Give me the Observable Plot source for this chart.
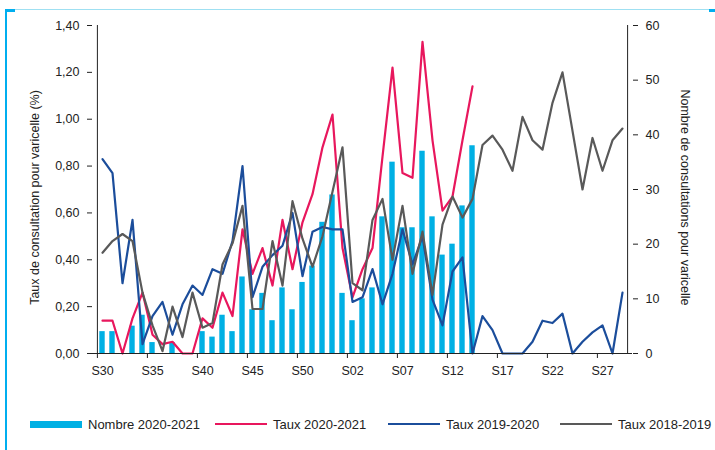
<!DOCTYPE html>
<html>
<head>
<meta charset="utf-8">
<script src="https://cdn.jsdelivr.net/npm/d3@7"></script>
<script src="https://cdn.jsdelivr.net/npm/@observablehq/plot@0.6"></script>
<style>
  body { margin: 0; background: #fff; font-family: "Liberation Sans", Arial, sans-serif; }
  #wrap { position: relative; width: 715px; height: 450px; overflow: hidden; background: #fff; }
  #chart { position: absolute; left: 0; top: 0; }
  .deco { position: absolute; background: #00AEEF; }
  .thin { position: absolute; background: #9FE0F2; }
  .lg-item { position: absolute; top: 416px; height: 16px; display: flex; align-items: center; font-size: 13px; color: #222; white-space: nowrap; }
  .lg-sw { width: 52px; margin-right: 6px; }
</style>
</head>
<body>
<div id="wrap">
  <div class="thin" style="left:15px;top:9px;width:694px;height:1px;"></div>
  <div class="deco" style="left:5px;top:9px;width:10px;height:2.5px;"></div>
  <div class="deco" style="left:709px;top:9px;width:6px;height:2.5px;"></div>
  <div class="deco" style="left:5px;top:9px;width:2.4px;height:441px;"></div>
  <div id="chart"></div>
  <div id="legend"></div>
</div>
<script>
// ---- Data ----
const weeks = ["S30","S31","S32","S33","S34","S35","S36","S37","S38","S39","S40","S41","S42","S43","S44","S45","S46","S47","S48","S49","S50","S51","S52","S53",
               "S01","S02","S03","S04","S05","S06","S07","S08","S09","S10","S11","S12","S13","S14","S15","S16","S17","S18","S19","S20","S21","S22","S23","S24","S25","S26","S27","S28","S29"];
const xTickLabels = ["S30","S35","S40","S45","S50","S02","S07","S12","S17","S22","S27"];
// Nombre de consultations 2020-2021 (right axis)
const nombre2021 = [4,4,0,5,7,2,0,2,0,0,4,3,7,4,14,8,11,6,12,8,13,16,24,29,11,6,10,12,25,35,23,23,37,25,18,20,27,38];
// Taux (%) (left axis)
const taux2021 = [0.14,0.14,0.00,0.15,0.26,0.08,0.04,0.05,0.00,0.00,0.15,0.11,0.26,0.16,0.53,0.34,0.45,0.29,0.57,0.36,0.56,0.68,0.88,1.02,
                  0.45,0.24,0.36,0.45,0.84,1.22,0.77,0.75,1.33,0.91,0.61,0.67,0.91,1.14];
const taux1920 = [0.83,0.77,0.30,0.57,0.04,0.16,0.22,0.08,0.21,0.29,0.25,0.36,0.34,0.48,0.80,0.24,0.37,0.42,0.46,0.60,0.33,0.52,0.54,0.53,
                  0.53,0.22,0.24,0.36,0.21,0.34,0.53,0.38,0.50,0.23,0.12,0.35,0.41,0.00,0.16,0.10,0.00,0.00,0.00,0.05,0.14,0.13,0.17,0.00,0.05,0.09,0.12,0.00,0.26];
const taux1819 = [0.43,0.48,0.51,0.48,0.26,0.12,0.01,0.20,0.07,0.26,0.11,0.13,0.38,0.47,0.63,0.19,0.19,0.48,0.29,0.65,0.49,0.37,0.50,0.69,
                  0.88,0.30,0.27,0.57,0.66,0.40,0.63,0.34,0.52,0.25,0.55,0.67,0.58,0.66,0.89,0.93,0.87,0.78,1.01,0.91,0.87,1.07,1.20,0.95,0.70,0.92,0.78,0.91,0.96];
const leftTicks = [0,0.2,0.4,0.6,0.8,1.0,1.2,1.4];
const rightTicks = [0,10,20,30,40,50,60];
const seriesNames = ["Nombre 2020-2021","Taux 2020-2021","Taux 2019-2020","Taux 2018-2019"];
const seriesColors = ["#00B0E4","#E8175D","#1B4D9B","#595959"];

// ---- Chart ----
const W = 715, H = 390, mL = 92, mR = 83, mT = 25, mB = 37;
const leftMax = 1.4, rightMax = 60, ratio = leftMax / rightMax;
const bw = (W - mL - mR) / weeks.length;

const rows = (vals) => vals.map((v, i) => ({week: weeks[i], v}));
const font = "'Liberation Sans', Arial, sans-serif";

const chart = Plot.plot({
  width: W, height: H,
  marginLeft: mL, marginRight: mR, marginTop: mT, marginBottom: mB,
  style: {fontFamily: font, fontSize: "12.5px", color: "#222", background: "transparent"},
  x: {type: "band", domain: weeks, padding: 0},
  y: {domain: [0, leftMax]},
  marks: [
    Plot.barY(rows(nombre2021), {x: "week", y: d => d.v * ratio, fill: seriesColors[0], insetLeft: 2.3, insetRight: 2.3}),
    Plot.line(rows(taux2021), {x: "week", y: "v", stroke: seriesColors[1], strokeWidth: 2.2}),
    Plot.line(rows(taux1920), {x: "week", y: "v", stroke: seriesColors[2], strokeWidth: 2.2}),
    Plot.line(rows(taux1819), {x: "week", y: "v", stroke: seriesColors[3], strokeWidth: 2.2}),
    Plot.ruleY([0], {stroke: "#222", strokeWidth: 1}),
    Plot.ruleX([weeks[0]], {dx: -bw / 2, stroke: "#222", strokeWidth: 1}),
    Plot.ruleX([weeks[weeks.length - 1]], {dx: bw / 2, stroke: "#222", strokeWidth: 1}),
    Plot.axisY(leftTicks, {anchor: "left", tickSize: 5, tickPadding: 8, tickFormat: d => d.toFixed(2).replace(".", ","), label: null, stroke: "#222"}),
    Plot.axisY(rightTicks.map(t => t * ratio), {anchor: "right", tickSize: 5, tickPadding: 8, tickFormat: d => String(Math.round(d / ratio)), label: null, stroke: "#222"}),
    Plot.axisX(xTickLabels, {anchor: "bottom", tickSize: 5, tickFormat: () => "", dx: -bw / 2, label: null, stroke: "#222"}),
    Plot.axisX(xTickLabels, {anchor: "bottom", tickSize: 0, tickPadding: 13, label: null}),
    Plot.text(["Taux de consultation pour varicelle (%)"], {text: d => d, frameAnchor: "left", textAnchor: "middle", rotate: -90, dx: -58, dy: 8, fontSize: 12.5, fill: "#222"}),
    Plot.text(["Nombre de consultations pour varicelle"], {text: d => d, frameAnchor: "right", textAnchor: "middle", rotate: 90, dx: 52, dy: 8, fontSize: 12.5, fill: "#222"})
  ]
});
document.getElementById("chart").appendChild(chart);

// ---- Legend ----
const legendLeft = [30, 215, 388, 560];
const legend = document.getElementById("legend");
seriesNames.forEach((name, i) => {
  const item = document.createElement("div");
  item.className = "lg-item";
  item.style.left = legendLeft[i] + "px";
  const sw = document.createElement("div");
  sw.className = "lg-sw";
  sw.style.background = seriesColors[i];
  sw.style.height = i === 0 ? "7px" : "2.2px";
  const tx = document.createElement("span");
  tx.textContent = name;
  item.appendChild(sw);
  item.appendChild(tx);
  legend.appendChild(item);
});
</script>
</body>
</html>
